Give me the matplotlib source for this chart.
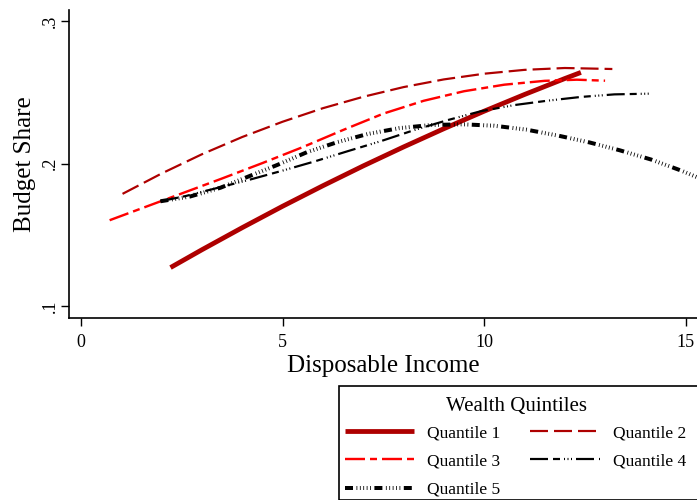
import matplotlib
matplotlib.use("Agg")
import matplotlib.pyplot as plt
from matplotlib.patches import Rectangle

plt.rcParams['font.family'] = ['Liberation Serif', 'DejaVu Serif']
plt.rcParams['lines.scale_dashes'] = False

# Data
q1_x = [2.22, 3.0, 4.0, 5.0, 6.0, 7.0, 8.0, 9.0, 10.0, 11.0, 12.0, 12.4]
q1_y = [0.1270, 0.1395, 0.1550, 0.1700, 0.1844, 0.1983, 0.2116, 0.2244, 0.2367, 0.2484, 0.2596, 0.2639]

q2_x = [1.03, 2.0, 3.0, 4.0, 5.0, 6.0, 7.0, 8.0, 9.0, 10.0, 11.0, 12.0, 13.18]
q2_y = [0.1787, 0.1930, 0.2065, 0.2186, 0.2293, 0.2388, 0.2468, 0.2536, 0.2590, 0.2630,
        0.2657, 0.2670, 0.2663]

q3_x = [0.71, 1.5, 2.5, 3.5, 4.5, 5.5, 6.5, 7.5, 8.5, 9.5, 10.5, 11.5, 12.3, 13.0]
q3_y = [0.1602, 0.1685, 0.1790, 0.1895, 0.2003, 0.2115, 0.2235, 0.2350, 0.2440, 0.2507,
        0.2553, 0.2580, 0.2588, 0.2581]

q4_x = [1.97, 2.6, 3.29, 4.1, 4.95, 5.8, 6.6, 7.44, 8.26, 9.09, 9.92, 10.75, 11.58, 12.4,
        13.23, 14.1]
q4_y = [0.1735, 0.1772, 0.1822, 0.1880, 0.1946, 0.2015, 0.2085, 0.2157, 0.2234, 0.2304,
        0.2367, 0.2410, 0.2441, 0.2467, 0.2485, 0.2490]

q5_x = [1.97, 2.7, 3.46, 4.12, 4.87, 5.61, 6.36, 7.11, 7.89, 8.68, 9.47, 10.25,
        11.04, 11.83, 12.61, 13.36, 14.14, 14.89, 15.31]
q5_y = [0.1735, 0.1768, 0.1830, 0.1905, 0.1990, 0.2080, 0.2150, 0.2207, 0.2248, 0.2270,
        0.2275, 0.2265, 0.2238, 0.2196, 0.2148, 0.2093, 0.2028, 0.1950, 0.1900]

labels = ['Quantile 1', 'Quantile 2', 'Quantile 3', 'Quantile 4', 'Quantile 5']
x_ticks = [0, 5, 10, 15]
y_ticks = [0.1, 0.2, 0.3]
y_ticklabels = ['.1', '.2', '.3']

dark_red = '#AE0000'
red = '#FF0000'
black = '#000000'
px = 0.72  # points per pixel at dpi 100

fig = plt.figure(figsize=(6.97, 5.0), dpi=100)
ax = fig.add_axes([69 / 697, 1 - 318 / 500, 1 - 69 / 697, (318 - 10) / 500])

l1, = ax.plot(q1_x, q1_y, color=dark_red, lw=4.8 * px, solid_capstyle='butt', label=labels[0])
l2, = ax.plot(q2_x, q2_y, color=dark_red, lw=2.2 * px, dash_capstyle='butt',
              dashes=[18 * px, 6 * px], label=labels[1])
l3, = ax.plot(q3_x, q3_y, color=red, lw=2.4 * px, dash_capstyle='butt',
              dashes=[20 * px, 5 * px, 7 * px, 5 * px], label=labels[2])
l4, = ax.plot(q4_x, q4_y, color=black, lw=2.2 * px, dash_capstyle='butt',
              dashes=[18 * px, 5 * px, 7 * px, 4 * px, 1 * px, 2.5 * px, 1 * px, 2.5 * px,
                      1 * px, 4 * px], label=labels[3])
l5, = ax.plot(q5_x, q5_y, color=black, lw=4.0 * px, dash_capstyle='butt',
              dashes=[8 * px, 3.5 * px, 0.8 * px, 2.6 * px, 0.8 * px, 2.6 * px, 0.8 * px, 2.6 * px,
                      0.8 * px, 2.6 * px, 0.8 * px, 3.5 * px], label=labels[4])

ax.set_xlim(-0.298, 15.28)
ax.set_ylim(0.0916, 0.3077)
ax.set_xticks(x_ticks)
ax.set_yticks(y_ticks)
ax.set_yticklabels(y_ticklabels, rotation=90, va='center')
ax.spines['top'].set_visible(False)
ax.spines['right'].set_visible(False)
for s in ('left', 'bottom'):
    ax.spines[s].set_linewidth(1.2)
ax.tick_params(axis='both', direction='out', length=5.5, width=1.0, labelsize=13)
ax.tick_params(axis='x', pad=6)
ax.tick_params(axis='y', pad=2)
ax.set_xlabel('Disposable Income', fontsize=18, labelpad=3)
ax.set_ylabel('Budget Share', fontsize=18, labelpad=4)

# Legend frame (extends past the figure edges)
fig.patches.append(Rectangle((339 / 697, 0), 1, 1 - 386 / 500, transform=fig.transFigure,
                             fill=False, edgecolor='black', lw=1.2, clip_on=False))
fig.text(517 / 697, 1 - 406 / 500, 'Wealth Quintiles', ha='center', va='center', fontsize=15)
order = [0, 2, 4, 1, 3]
handles = [l1, l2, l3, l4, l5]
leg = fig.legend(handles=[handles[i] for i in order], labels=[labels[i] for i in order],
                 ncol=2, frameon=False,
                 loc='upper left', bbox_to_anchor=(345 / 697, 1 - 425 / 500),
                 fontsize=12.5, handlelength=4.0, handletextpad=0.75, columnspacing=1.7,
                 labelspacing=0.7, borderaxespad=0, borderpad=0.0)

fig.savefig('out.png', dpi=100)
